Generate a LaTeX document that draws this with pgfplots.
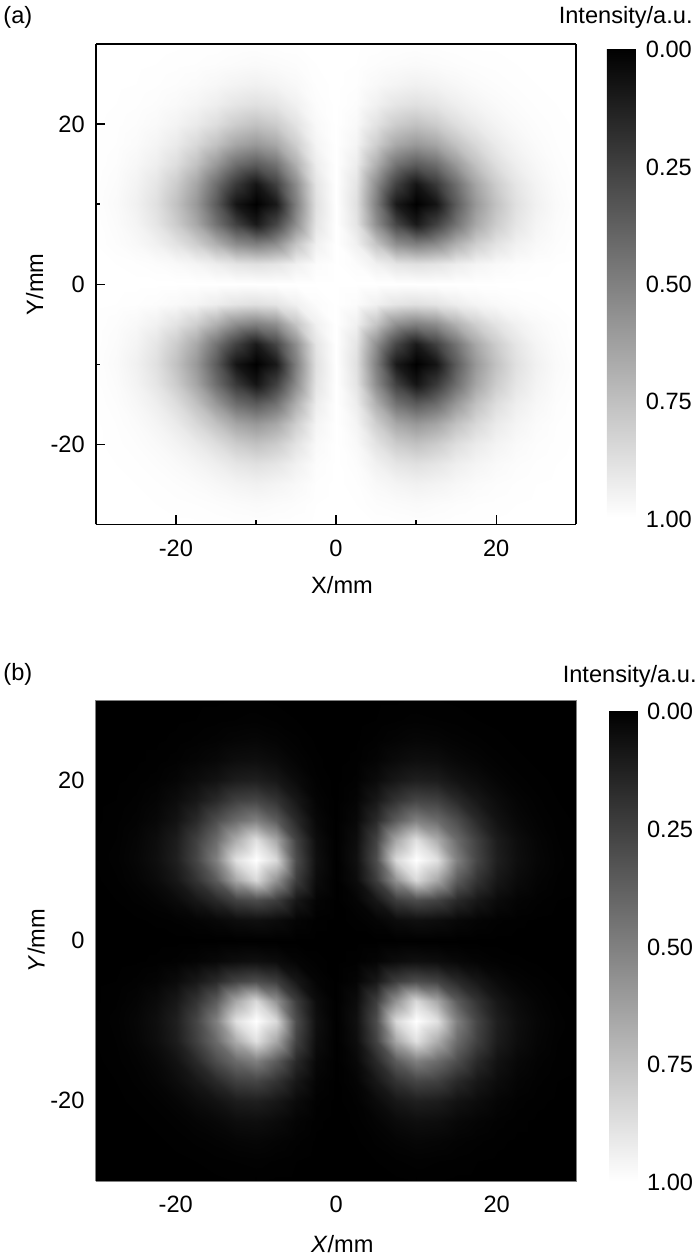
\documentclass[border=0pt]{standalone}
\usepackage{pgfplots}
\pgfplotsset{compat=1.18}
\usepackage{fontspec}
\setmainfont{Liberation Sans}

\newcommand{\lab}{\fontsize{11.8}{13}\selectfont}

\pgfplotsset{
  beamaxis/.style={
    scale only axis,
    xmin=-30, xmax=30, ymin=-30, ymax=30,
    view={0}{90},
    axis on top,
    colormap/blackwhite,
    point meta min=0, point meta max=1,
    xtick={-20,0,20}, xticklabels={-20,0,20},
    ytick={-20,0,20}, yticklabels={-20,0,20},
    minor xtick={-10,10}, minor ytick={-10,10},
    xtick pos=bottom, ytick pos=left,
    tick align=inside,
    major tick length=4.5pt, minor tick length=2pt,
    tick style={black, line width=0.7pt},
    axis line style={line width=0.8pt},
    every tick label/.append style={font=\lab},
    xticklabel style={yshift=-4pt},
    yticklabel style={xshift=-2pt},
    label style={font=\lab},
    colorbar,
  },
  barstyle/.style={
    at={(parent axis.north east)}, anchor=north west,
    scale only axis,
    y dir=reverse, ytick={0,0.25,0.5,0.75,1},
    yticklabels={0.00,0.25,0.50,0.75,1.00},
    yticklabel pos=right, ytick style={draw=none},
    axis line style={draw=none},
    yticklabel style={font=\lab, xshift=1pt, yshift=-0.75pt},
  },
}

\begin{document}
\begin{tikzpicture}
\path[use as bounding box] (0,0) rectangle (350pt,627.5pt);
\node[anchor=west,inner sep=0pt,font=\lab] at (1.5pt,619pt) {(a)};
\node[anchor=east,inner sep=0pt,font=\lab] at (346.5pt,619pt) {Intensity/a.u.};
\node[anchor=west,inner sep=0pt,font=\lab] at (1.5pt,290.5pt) {(b)};
\node[anchor=east,inner sep=0pt,font=\lab] at (348.5pt,289.5pt) {Intensity/a.u.};

\begin{axis}[beamaxis,
  at={(47.9pt,365.25pt)}, anchor=south west,
  width=240.25pt, height=240.25pt,
  xlabel={X/mm}, ylabel={Y/mm},
  xlabel style={at={(axis description cs:0.5125,-0.126)}, anchor=center},
  ylabel style={at={(axis description cs:-0.127,0.5)}, anchor=center},
  colorbar style={barstyle, xshift=6.75pt, yshift=-2.05pt, width=15pt, height=234.7pt},
]
% grey value read at each grid point, rows from y=-30 to y=30
\addplot3[surf, shader=interp, mesh/cols=25] coordinates {
(-30,-30,1)(-27.5,-30,1)(-25,-30,1)(-22.5,-30,1)(-20,-30,.999)(-17.5,-30,.999)(-15,-30,.998)(-12.5,-30,.996)(-10,-30,.995)(-7.5,-30,.997)(-5,-30,.998)(-2.5,-30,1)(0,-30,1)(2.5,-30,1)(5,-30,.998)(7.5,-30,.997)(10,-30,.995)(12.5,-30,.996)(15,-30,.998)(17.5,-30,.999)(20,-30,.999)(22.5,-30,1)(25,-30,1)(27.5,-30,1)(30,-30,1)
(-30,-27.5,1)(-27.5,-27.5,1)(-25,-27.5,.999)(-22.5,-27.5,.998)(-20,-27.5,.996)(-17.5,-27.5,.994)(-15,-27.5,.99)(-12.5,-27.5,.985)(-10,-27.5,.98)(-7.5,-27.5,.985)(-5,-27.5,.99)(-2.5,-27.5,.998)(0,-27.5,1)(2.5,-27.5,.998)(5,-27.5,.99)(7.5,-27.5,.985)(10,-27.5,.98)(12.5,-27.5,.985)(15,-27.5,.99)(17.5,-27.5,.994)(20,-27.5,.996)(22.5,-27.5,.998)(25,-27.5,.999)(27.5,-27.5,1)(30,-27.5,1)
(-30,-25,1)(-27.5,-25,.999)(-25,-25,.998)(-22.5,-25,.995)(-20,-25,.99)(-17.5,-25,.983)(-15,-25,.97)(-12.5,-25,.955)(-10,-25,.945)(-7.5,-25,.958)(-5,-25,.975)(-2.5,-25,.995)(0,-25,1)(2.5,-25,.995)(5,-25,.975)(7.5,-25,.958)(10,-25,.945)(12.5,-25,.955)(15,-25,.97)(17.5,-25,.983)(20,-25,.99)(22.5,-25,.995)(25,-25,.998)(27.5,-25,.999)(30,-25,1)
(-30,-22.5,1)(-27.5,-22.5,.998)(-25,-22.5,.995)(-22.5,-22.5,.989)(-20,-22.5,.978)(-17.5,-22.5,.96)(-15,-22.5,.935)(-12.5,-22.5,.9)(-10,-22.5,.88)(-7.5,-22.5,.9)(-5,-22.5,.945)(-2.5,-22.5,.989)(0,-22.5,1)(2.5,-22.5,.989)(5,-22.5,.945)(7.5,-22.5,.9)(10,-22.5,.88)(12.5,-22.5,.9)(15,-22.5,.935)(17.5,-22.5,.96)(20,-22.5,.978)(22.5,-22.5,.989)(25,-22.5,.995)(27.5,-22.5,.998)(30,-22.5,1)
(-30,-20,.999)(-27.5,-20,.996)(-25,-20,.99)(-22.5,-20,.978)(-20,-20,.955)(-17.5,-20,.92)(-15,-20,.87)(-12.5,-20,.8)(-10,-20,.76)(-7.5,-20,.8)(-5,-20,.89)(-2.5,-20,.977)(0,-20,1)(2.5,-20,.977)(5,-20,.89)(7.5,-20,.8)(10,-20,.76)(12.5,-20,.8)(15,-20,.87)(17.5,-20,.92)(20,-20,.955)(22.5,-20,.978)(25,-20,.99)(27.5,-20,.996)(30,-20,.999)
(-30,-17.5,.999)(-27.5,-17.5,.994)(-25,-17.5,.983)(-22.5,-17.5,.96)(-20,-17.5,.92)(-17.5,-17.5,.85)(-15,-17.5,.76)(-12.5,-17.5,.65)(-10,-17.5,.6)(-7.5,-17.5,.66)(-5,-17.5,.81)(-2.5,-17.5,.959)(0,-17.5,1)(2.5,-17.5,.959)(5,-17.5,.81)(7.5,-17.5,.66)(10,-17.5,.6)(12.5,-17.5,.65)(15,-17.5,.76)(17.5,-17.5,.85)(20,-17.5,.92)(22.5,-17.5,.96)(25,-17.5,.983)(27.5,-17.5,.994)(30,-17.5,.999)
(-30,-15,.998)(-27.5,-15,.99)(-25,-15,.97)(-22.5,-15,.935)(-20,-15,.87)(-17.5,-15,.76)(-15,-15,.6)(-12.5,-15,.43)(-10,-15,.36)(-7.5,-15,.45)(-5,-15,.69)(-2.5,-15,.93)(0,-15,1)(2.5,-15,.93)(5,-15,.69)(7.5,-15,.45)(10,-15,.36)(12.5,-15,.43)(15,-15,.6)(17.5,-15,.76)(20,-15,.87)(22.5,-15,.935)(25,-15,.97)(27.5,-15,.99)(30,-15,.998)
(-30,-12.5,.996)(-27.5,-12.5,.985)(-25,-12.5,.955)(-22.5,-12.5,.9)(-20,-12.5,.8)(-17.5,-12.5,.65)(-15,-12.5,.43)(-12.5,-12.5,.22)(-10,-12.5,.08)(-7.5,-12.5,.25)(-5,-12.5,.55)(-2.5,-12.5,.896)(0,-12.5,1)(2.5,-12.5,.896)(5,-12.5,.55)(7.5,-12.5,.25)(10,-12.5,.08)(12.5,-12.5,.22)(15,-12.5,.43)(17.5,-12.5,.65)(20,-12.5,.8)(22.5,-12.5,.9)(25,-12.5,.955)(27.5,-12.5,.985)(30,-12.5,.996)
(-30,-10,.995)(-27.5,-10,.98)(-25,-10,.945)(-22.5,-10,.88)(-20,-10,.76)(-17.5,-10,.6)(-15,-10,.36)(-12.5,-10,.08)(-10,-10,0)(-7.5,-10,.1)(-5,-10,.5)(-2.5,-10,.88)(0,-10,1)(2.5,-10,.88)(5,-10,.5)(7.5,-10,.1)(10,-10,0)(12.5,-10,.08)(15,-10,.36)(17.5,-10,.6)(20,-10,.76)(22.5,-10,.88)(25,-10,.945)(27.5,-10,.98)(30,-10,.995)
(-30,-7.5,.997)(-27.5,-7.5,.985)(-25,-7.5,.958)(-22.5,-7.5,.9)(-20,-7.5,.8)(-17.5,-7.5,.66)(-15,-7.5,.45)(-12.5,-7.5,.25)(-10,-7.5,.1)(-7.5,-7.5,.27)(-5,-7.5,.56)(-2.5,-7.5,.898)(0,-7.5,1)(2.5,-7.5,.898)(5,-7.5,.56)(7.5,-7.5,.27)(10,-7.5,.1)(12.5,-7.5,.25)(15,-7.5,.45)(17.5,-7.5,.66)(20,-7.5,.8)(22.5,-7.5,.9)(25,-7.5,.958)(27.5,-7.5,.985)(30,-7.5,.997)
(-30,-5,.998)(-27.5,-5,.99)(-25,-5,.975)(-22.5,-5,.945)(-20,-5,.89)(-17.5,-5,.81)(-15,-5,.69)(-12.5,-5,.55)(-10,-5,.5)(-7.5,-5,.56)(-5,-5,.77)(-2.5,-5,.944)(0,-5,1)(2.5,-5,.944)(5,-5,.77)(7.5,-5,.56)(10,-5,.5)(12.5,-5,.55)(15,-5,.69)(17.5,-5,.81)(20,-5,.89)(22.5,-5,.945)(25,-5,.975)(27.5,-5,.99)(30,-5,.998)
(-30,-2.5,1)(-27.5,-2.5,.998)(-25,-2.5,.995)(-22.5,-2.5,.989)(-20,-2.5,.977)(-17.5,-2.5,.959)(-15,-2.5,.93)(-12.5,-2.5,.896)(-10,-2.5,.88)(-7.5,-2.5,.898)(-5,-2.5,.944)(-2.5,-2.5,.986)(0,-2.5,1)(2.5,-2.5,.986)(5,-2.5,.944)(7.5,-2.5,.898)(10,-2.5,.88)(12.5,-2.5,.896)(15,-2.5,.93)(17.5,-2.5,.959)(20,-2.5,.977)(22.5,-2.5,.989)(25,-2.5,.995)(27.5,-2.5,.998)(30,-2.5,1)
(-30,0,1)(-27.5,0,1)(-25,0,1)(-22.5,0,1)(-20,0,1)(-17.5,0,1)(-15,0,1)(-12.5,0,1)(-10,0,1)(-7.5,0,1)(-5,0,1)(-2.5,0,1)(0,0,1)(2.5,0,1)(5,0,1)(7.5,0,1)(10,0,1)(12.5,0,1)(15,0,1)(17.5,0,1)(20,0,1)(22.5,0,1)(25,0,1)(27.5,0,1)(30,0,1)
(-30,2.5,1)(-27.5,2.5,.998)(-25,2.5,.995)(-22.5,2.5,.989)(-20,2.5,.977)(-17.5,2.5,.959)(-15,2.5,.93)(-12.5,2.5,.896)(-10,2.5,.88)(-7.5,2.5,.898)(-5,2.5,.944)(-2.5,2.5,.986)(0,2.5,1)(2.5,2.5,.986)(5,2.5,.944)(7.5,2.5,.898)(10,2.5,.88)(12.5,2.5,.896)(15,2.5,.93)(17.5,2.5,.959)(20,2.5,.977)(22.5,2.5,.989)(25,2.5,.995)(27.5,2.5,.998)(30,2.5,1)
(-30,5,.998)(-27.5,5,.99)(-25,5,.975)(-22.5,5,.945)(-20,5,.89)(-17.5,5,.81)(-15,5,.69)(-12.5,5,.55)(-10,5,.5)(-7.5,5,.56)(-5,5,.77)(-2.5,5,.944)(0,5,1)(2.5,5,.944)(5,5,.77)(7.5,5,.56)(10,5,.5)(12.5,5,.55)(15,5,.69)(17.5,5,.81)(20,5,.89)(22.5,5,.945)(25,5,.975)(27.5,5,.99)(30,5,.998)
(-30,7.5,.997)(-27.5,7.5,.985)(-25,7.5,.958)(-22.5,7.5,.9)(-20,7.5,.8)(-17.5,7.5,.66)(-15,7.5,.45)(-12.5,7.5,.25)(-10,7.5,.1)(-7.5,7.5,.27)(-5,7.5,.56)(-2.5,7.5,.898)(0,7.5,1)(2.5,7.5,.898)(5,7.5,.56)(7.5,7.5,.27)(10,7.5,.1)(12.5,7.5,.25)(15,7.5,.45)(17.5,7.5,.66)(20,7.5,.8)(22.5,7.5,.9)(25,7.5,.958)(27.5,7.5,.985)(30,7.5,.997)
(-30,10,.995)(-27.5,10,.98)(-25,10,.945)(-22.5,10,.88)(-20,10,.76)(-17.5,10,.6)(-15,10,.36)(-12.5,10,.08)(-10,10,0)(-7.5,10,.1)(-5,10,.5)(-2.5,10,.88)(0,10,1)(2.5,10,.88)(5,10,.5)(7.5,10,.1)(10,10,0)(12.5,10,.08)(15,10,.36)(17.5,10,.6)(20,10,.76)(22.5,10,.88)(25,10,.945)(27.5,10,.98)(30,10,.995)
(-30,12.5,.996)(-27.5,12.5,.985)(-25,12.5,.955)(-22.5,12.5,.9)(-20,12.5,.8)(-17.5,12.5,.65)(-15,12.5,.43)(-12.5,12.5,.22)(-10,12.5,.08)(-7.5,12.5,.25)(-5,12.5,.55)(-2.5,12.5,.896)(0,12.5,1)(2.5,12.5,.896)(5,12.5,.55)(7.5,12.5,.25)(10,12.5,.08)(12.5,12.5,.22)(15,12.5,.43)(17.5,12.5,.65)(20,12.5,.8)(22.5,12.5,.9)(25,12.5,.955)(27.5,12.5,.985)(30,12.5,.996)
(-30,15,.998)(-27.5,15,.99)(-25,15,.97)(-22.5,15,.935)(-20,15,.87)(-17.5,15,.76)(-15,15,.6)(-12.5,15,.43)(-10,15,.36)(-7.5,15,.45)(-5,15,.69)(-2.5,15,.93)(0,15,1)(2.5,15,.93)(5,15,.69)(7.5,15,.45)(10,15,.36)(12.5,15,.43)(15,15,.6)(17.5,15,.76)(20,15,.87)(22.5,15,.935)(25,15,.97)(27.5,15,.99)(30,15,.998)
(-30,17.5,.999)(-27.5,17.5,.994)(-25,17.5,.983)(-22.5,17.5,.96)(-20,17.5,.92)(-17.5,17.5,.85)(-15,17.5,.76)(-12.5,17.5,.65)(-10,17.5,.6)(-7.5,17.5,.66)(-5,17.5,.81)(-2.5,17.5,.959)(0,17.5,1)(2.5,17.5,.959)(5,17.5,.81)(7.5,17.5,.66)(10,17.5,.6)(12.5,17.5,.65)(15,17.5,.76)(17.5,17.5,.85)(20,17.5,.92)(22.5,17.5,.96)(25,17.5,.983)(27.5,17.5,.994)(30,17.5,.999)
(-30,20,.999)(-27.5,20,.996)(-25,20,.99)(-22.5,20,.978)(-20,20,.955)(-17.5,20,.92)(-15,20,.87)(-12.5,20,.8)(-10,20,.76)(-7.5,20,.8)(-5,20,.89)(-2.5,20,.977)(0,20,1)(2.5,20,.977)(5,20,.89)(7.5,20,.8)(10,20,.76)(12.5,20,.8)(15,20,.87)(17.5,20,.92)(20,20,.955)(22.5,20,.978)(25,20,.99)(27.5,20,.996)(30,20,.999)
(-30,22.5,1)(-27.5,22.5,.998)(-25,22.5,.995)(-22.5,22.5,.989)(-20,22.5,.978)(-17.5,22.5,.96)(-15,22.5,.935)(-12.5,22.5,.9)(-10,22.5,.88)(-7.5,22.5,.9)(-5,22.5,.945)(-2.5,22.5,.989)(0,22.5,1)(2.5,22.5,.989)(5,22.5,.945)(7.5,22.5,.9)(10,22.5,.88)(12.5,22.5,.9)(15,22.5,.935)(17.5,22.5,.96)(20,22.5,.978)(22.5,22.5,.989)(25,22.5,.995)(27.5,22.5,.998)(30,22.5,1)
(-30,25,1)(-27.5,25,.999)(-25,25,.998)(-22.5,25,.995)(-20,25,.99)(-17.5,25,.983)(-15,25,.97)(-12.5,25,.955)(-10,25,.945)(-7.5,25,.958)(-5,25,.975)(-2.5,25,.995)(0,25,1)(2.5,25,.995)(5,25,.975)(7.5,25,.958)(10,25,.945)(12.5,25,.955)(15,25,.97)(17.5,25,.983)(20,25,.99)(22.5,25,.995)(25,25,.998)(27.5,25,.999)(30,25,1)
(-30,27.5,1)(-27.5,27.5,1)(-25,27.5,.999)(-22.5,27.5,.998)(-20,27.5,.996)(-17.5,27.5,.994)(-15,27.5,.99)(-12.5,27.5,.985)(-10,27.5,.98)(-7.5,27.5,.985)(-5,27.5,.99)(-2.5,27.5,.998)(0,27.5,1)(2.5,27.5,.998)(5,27.5,.99)(7.5,27.5,.985)(10,27.5,.98)(12.5,27.5,.985)(15,27.5,.99)(17.5,27.5,.994)(20,27.5,.996)(22.5,27.5,.998)(25,27.5,.999)(27.5,27.5,1)(30,27.5,1)
(-30,30,1)(-27.5,30,1)(-25,30,1)(-22.5,30,1)(-20,30,.999)(-17.5,30,.999)(-15,30,.998)(-12.5,30,.996)(-10,30,.995)(-7.5,30,.997)(-5,30,.998)(-2.5,30,1)(0,30,1)(2.5,30,1)(5,30,.998)(7.5,30,.997)(10,30,.995)(12.5,30,.996)(15,30,.998)(17.5,30,.999)(20,30,.999)(22.5,30,1)(25,30,1)(27.5,30,1)(30,30,1)
};
\end{axis}

\begin{axis}[beamaxis,
  at={(47.75pt,37pt)}, anchor=south west,
  width=240.75pt, height=240.5pt,
  axis line style={gray, line width=0.5pt},
  xlabel={\textit{X}/mm}, ylabel={\textit{Y}/mm},
  xlabel style={at={(axis description cs:0.5125,-0.131)}, anchor=center},
  ylabel style={at={(axis description cs:-0.123,0.5)}, anchor=center},
  colorbar style={barstyle, xshift=7.5pt, yshift=-5pt, width=14.5pt, height=235.5pt},
]
\addplot3[surf, shader=interp, mesh/cols=25] coordinates {
(-30,-30,0)(-27.5,-30,0)(-25,-30,0)(-22.5,-30,0)(-20,-30,0)(-17.5,-30,.001)(-15,-30,.001)(-12.5,-30,.002)(-10,-30,.002)(-7.5,-30,.001)(-5,-30,.001)(-2.5,-30,0)(0,-30,0)(2.5,-30,0)(5,-30,.001)(7.5,-30,.001)(10,-30,.002)(12.5,-30,.002)(15,-30,.001)(17.5,-30,.001)(20,-30,0)(22.5,-30,0)(25,-30,0)(27.5,-30,0)(30,-30,0)
(-30,-27.5,0)(-27.5,-27.5,0)(-25,-27.5,0)(-22.5,-27.5,0)(-20,-27.5,.001)(-17.5,-27.5,.002)(-15,-27.5,.004)(-12.5,-27.5,.006)(-10,-27.5,.008)(-7.5,-27.5,.005)(-5,-27.5,.002)(-2.5,-27.5,0)(0,-27.5,0)(2.5,-27.5,0)(5,-27.5,.002)(7.5,-27.5,.005)(10,-27.5,.008)(12.5,-27.5,.006)(15,-27.5,.004)(17.5,-27.5,.002)(20,-27.5,.001)(22.5,-27.5,0)(25,-27.5,0)(27.5,-27.5,0)(30,-27.5,0)
(-30,-25,0)(-27.5,-25,0)(-25,-25,.001)(-22.5,-25,.001)(-20,-25,.003)(-17.5,-25,.007)(-15,-25,.012)(-12.5,-25,.02)(-10,-25,.024)(-7.5,-25,.016)(-5,-25,.007)(-2.5,-25,.001)(0,-25,0)(2.5,-25,.001)(5,-25,.007)(7.5,-25,.016)(10,-25,.024)(12.5,-25,.02)(15,-25,.012)(17.5,-25,.007)(20,-25,.003)(22.5,-25,.001)(25,-25,.001)(27.5,-25,0)(30,-25,0)
(-30,-22.5,0)(-27.5,-22.5,0)(-25,-22.5,.001)(-22.5,-22.5,.003)(-20,-22.5,.008)(-17.5,-22.5,.018)(-15,-22.5,.03)(-12.5,-22.5,.05)(-10,-22.5,.055)(-7.5,-22.5,.04)(-5,-22.5,.016)(-2.5,-22.5,.003)(0,-22.5,0)(2.5,-22.5,.003)(5,-22.5,.016)(7.5,-22.5,.04)(10,-22.5,.055)(12.5,-22.5,.05)(15,-22.5,.03)(17.5,-22.5,.018)(20,-22.5,.008)(22.5,-22.5,.003)(25,-22.5,.001)(27.5,-22.5,0)(30,-22.5,0)
(-30,-20,0)(-27.5,-20,.001)(-25,-20,.003)(-22.5,-20,.008)(-20,-20,.02)(-17.5,-20,.045)(-15,-20,.07)(-12.5,-20,.11)(-10,-20,.12)(-7.5,-20,.09)(-5,-20,.04)(-2.5,-20,.007)(0,-20,0)(2.5,-20,.007)(5,-20,.04)(7.5,-20,.09)(10,-20,.12)(12.5,-20,.11)(15,-20,.07)(17.5,-20,.045)(20,-20,.02)(22.5,-20,.008)(25,-20,.003)(27.5,-20,.001)(30,-20,0)
(-30,-17.5,.001)(-27.5,-17.5,.002)(-25,-17.5,.007)(-22.5,-17.5,.018)(-20,-17.5,.045)(-17.5,-17.5,.09)(-15,-17.5,.16)(-12.5,-17.5,.25)(-10,-17.5,.27)(-7.5,-17.5,.2)(-5,-17.5,.09)(-2.5,-17.5,.016)(0,-17.5,0)(2.5,-17.5,.016)(5,-17.5,.09)(7.5,-17.5,.2)(10,-17.5,.27)(12.5,-17.5,.25)(15,-17.5,.16)(17.5,-17.5,.09)(20,-17.5,.045)(22.5,-17.5,.018)(25,-17.5,.007)(27.5,-17.5,.002)(30,-17.5,.001)
(-30,-15,.001)(-27.5,-15,.004)(-25,-15,.012)(-22.5,-15,.03)(-20,-15,.07)(-17.5,-15,.16)(-15,-15,.3)(-12.5,-15,.42)(-10,-15,.5)(-7.5,-15,.36)(-5,-15,.16)(-2.5,-15,.03)(0,-15,0)(2.5,-15,.03)(5,-15,.16)(7.5,-15,.36)(10,-15,.5)(12.5,-15,.42)(15,-15,.3)(17.5,-15,.16)(20,-15,.07)(22.5,-15,.03)(25,-15,.012)(27.5,-15,.004)(30,-15,.001)
(-30,-12.5,.002)(-27.5,-12.5,.006)(-25,-12.5,.02)(-22.5,-12.5,.05)(-20,-12.5,.11)(-17.5,-12.5,.25)(-15,-12.5,.42)(-12.5,-12.5,.68)(-10,-12.5,.88)(-7.5,-12.5,.66)(-5,-12.5,.26)(-2.5,-12.5,.05)(0,-12.5,0)(2.5,-12.5,.05)(5,-12.5,.26)(7.5,-12.5,.66)(10,-12.5,.88)(12.5,-12.5,.68)(15,-12.5,.42)(17.5,-12.5,.25)(20,-12.5,.11)(22.5,-12.5,.05)(25,-12.5,.02)(27.5,-12.5,.006)(30,-12.5,.002)
(-30,-10,.002)(-27.5,-10,.008)(-25,-10,.024)(-22.5,-10,.055)(-20,-10,.12)(-17.5,-10,.27)(-15,-10,.5)(-12.5,-10,.88)(-10,-10,1)(-7.5,-10,.85)(-5,-10,.3)(-2.5,-10,.06)(0,-10,0)(2.5,-10,.06)(5,-10,.3)(7.5,-10,.85)(10,-10,1)(12.5,-10,.88)(15,-10,.5)(17.5,-10,.27)(20,-10,.12)(22.5,-10,.055)(25,-10,.024)(27.5,-10,.008)(30,-10,.002)
(-30,-7.5,.001)(-27.5,-7.5,.005)(-25,-7.5,.016)(-22.5,-7.5,.04)(-20,-7.5,.09)(-17.5,-7.5,.2)(-15,-7.5,.36)(-12.5,-7.5,.66)(-10,-7.5,.85)(-7.5,-7.5,.58)(-5,-7.5,.24)(-2.5,-7.5,.045)(0,-7.5,0)(2.5,-7.5,.045)(5,-7.5,.24)(7.5,-7.5,.58)(10,-7.5,.85)(12.5,-7.5,.66)(15,-7.5,.36)(17.5,-7.5,.2)(20,-7.5,.09)(22.5,-7.5,.04)(25,-7.5,.016)(27.5,-7.5,.005)(30,-7.5,.001)
(-30,-5,.001)(-27.5,-5,.002)(-25,-5,.007)(-22.5,-5,.016)(-20,-5,.04)(-17.5,-5,.09)(-15,-5,.16)(-12.5,-5,.26)(-10,-5,.3)(-7.5,-5,.24)(-5,-5,.09)(-2.5,-5,.017)(0,-5,0)(2.5,-5,.017)(5,-5,.09)(7.5,-5,.24)(10,-5,.3)(12.5,-5,.26)(15,-5,.16)(17.5,-5,.09)(20,-5,.04)(22.5,-5,.016)(25,-5,.007)(27.5,-5,.002)(30,-5,.001)
(-30,-2.5,0)(-27.5,-2.5,0)(-25,-2.5,.001)(-22.5,-2.5,.003)(-20,-2.5,.007)(-17.5,-2.5,.016)(-15,-2.5,.03)(-12.5,-2.5,.05)(-10,-2.5,.06)(-7.5,-2.5,.045)(-5,-2.5,.017)(-2.5,-2.5,.004)(0,-2.5,0)(2.5,-2.5,.004)(5,-2.5,.017)(7.5,-2.5,.045)(10,-2.5,.06)(12.5,-2.5,.05)(15,-2.5,.03)(17.5,-2.5,.016)(20,-2.5,.007)(22.5,-2.5,.003)(25,-2.5,.001)(27.5,-2.5,0)(30,-2.5,0)
(-30,0,0)(-27.5,0,0)(-25,0,0)(-22.5,0,0)(-20,0,0)(-17.5,0,0)(-15,0,0)(-12.5,0,0)(-10,0,0)(-7.5,0,0)(-5,0,0)(-2.5,0,0)(0,0,0)(2.5,0,0)(5,0,0)(7.5,0,0)(10,0,0)(12.5,0,0)(15,0,0)(17.5,0,0)(20,0,0)(22.5,0,0)(25,0,0)(27.5,0,0)(30,0,0)
(-30,2.5,0)(-27.5,2.5,0)(-25,2.5,.001)(-22.5,2.5,.003)(-20,2.5,.007)(-17.5,2.5,.016)(-15,2.5,.03)(-12.5,2.5,.05)(-10,2.5,.06)(-7.5,2.5,.045)(-5,2.5,.017)(-2.5,2.5,.004)(0,2.5,0)(2.5,2.5,.004)(5,2.5,.017)(7.5,2.5,.045)(10,2.5,.06)(12.5,2.5,.05)(15,2.5,.03)(17.5,2.5,.016)(20,2.5,.007)(22.5,2.5,.003)(25,2.5,.001)(27.5,2.5,0)(30,2.5,0)
(-30,5,.001)(-27.5,5,.002)(-25,5,.007)(-22.5,5,.016)(-20,5,.04)(-17.5,5,.09)(-15,5,.16)(-12.5,5,.26)(-10,5,.3)(-7.5,5,.24)(-5,5,.09)(-2.5,5,.017)(0,5,0)(2.5,5,.017)(5,5,.09)(7.5,5,.24)(10,5,.3)(12.5,5,.26)(15,5,.16)(17.5,5,.09)(20,5,.04)(22.5,5,.016)(25,5,.007)(27.5,5,.002)(30,5,.001)
(-30,7.5,.001)(-27.5,7.5,.005)(-25,7.5,.016)(-22.5,7.5,.04)(-20,7.5,.09)(-17.5,7.5,.2)(-15,7.5,.36)(-12.5,7.5,.66)(-10,7.5,.85)(-7.5,7.5,.58)(-5,7.5,.24)(-2.5,7.5,.045)(0,7.5,0)(2.5,7.5,.045)(5,7.5,.24)(7.5,7.5,.58)(10,7.5,.85)(12.5,7.5,.66)(15,7.5,.36)(17.5,7.5,.2)(20,7.5,.09)(22.5,7.5,.04)(25,7.5,.016)(27.5,7.5,.005)(30,7.5,.001)
(-30,10,.002)(-27.5,10,.008)(-25,10,.024)(-22.5,10,.055)(-20,10,.12)(-17.5,10,.27)(-15,10,.5)(-12.5,10,.88)(-10,10,1)(-7.5,10,.85)(-5,10,.3)(-2.5,10,.06)(0,10,0)(2.5,10,.06)(5,10,.3)(7.5,10,.85)(10,10,1)(12.5,10,.88)(15,10,.5)(17.5,10,.27)(20,10,.12)(22.5,10,.055)(25,10,.024)(27.5,10,.008)(30,10,.002)
(-30,12.5,.002)(-27.5,12.5,.006)(-25,12.5,.02)(-22.5,12.5,.05)(-20,12.5,.11)(-17.5,12.5,.25)(-15,12.5,.42)(-12.5,12.5,.68)(-10,12.5,.88)(-7.5,12.5,.66)(-5,12.5,.26)(-2.5,12.5,.05)(0,12.5,0)(2.5,12.5,.05)(5,12.5,.26)(7.5,12.5,.66)(10,12.5,.88)(12.5,12.5,.68)(15,12.5,.42)(17.5,12.5,.25)(20,12.5,.11)(22.5,12.5,.05)(25,12.5,.02)(27.5,12.5,.006)(30,12.5,.002)
(-30,15,.001)(-27.5,15,.004)(-25,15,.012)(-22.5,15,.03)(-20,15,.07)(-17.5,15,.16)(-15,15,.3)(-12.5,15,.42)(-10,15,.5)(-7.5,15,.36)(-5,15,.16)(-2.5,15,.03)(0,15,0)(2.5,15,.03)(5,15,.16)(7.5,15,.36)(10,15,.5)(12.5,15,.42)(15,15,.3)(17.5,15,.16)(20,15,.07)(22.5,15,.03)(25,15,.012)(27.5,15,.004)(30,15,.001)
(-30,17.5,.001)(-27.5,17.5,.002)(-25,17.5,.007)(-22.5,17.5,.018)(-20,17.5,.045)(-17.5,17.5,.09)(-15,17.5,.16)(-12.5,17.5,.25)(-10,17.5,.27)(-7.5,17.5,.2)(-5,17.5,.09)(-2.5,17.5,.016)(0,17.5,0)(2.5,17.5,.016)(5,17.5,.09)(7.5,17.5,.2)(10,17.5,.27)(12.5,17.5,.25)(15,17.5,.16)(17.5,17.5,.09)(20,17.5,.045)(22.5,17.5,.018)(25,17.5,.007)(27.5,17.5,.002)(30,17.5,.001)
(-30,20,0)(-27.5,20,.001)(-25,20,.003)(-22.5,20,.008)(-20,20,.02)(-17.5,20,.045)(-15,20,.07)(-12.5,20,.11)(-10,20,.12)(-7.5,20,.09)(-5,20,.04)(-2.5,20,.007)(0,20,0)(2.5,20,.007)(5,20,.04)(7.5,20,.09)(10,20,.12)(12.5,20,.11)(15,20,.07)(17.5,20,.045)(20,20,.02)(22.5,20,.008)(25,20,.003)(27.5,20,.001)(30,20,0)
(-30,22.5,0)(-27.5,22.5,0)(-25,22.5,.001)(-22.5,22.5,.003)(-20,22.5,.008)(-17.5,22.5,.018)(-15,22.5,.03)(-12.5,22.5,.05)(-10,22.5,.055)(-7.5,22.5,.04)(-5,22.5,.016)(-2.5,22.5,.003)(0,22.5,0)(2.5,22.5,.003)(5,22.5,.016)(7.5,22.5,.04)(10,22.5,.055)(12.5,22.5,.05)(15,22.5,.03)(17.5,22.5,.018)(20,22.5,.008)(22.5,22.5,.003)(25,22.5,.001)(27.5,22.5,0)(30,22.5,0)
(-30,25,0)(-27.5,25,0)(-25,25,.001)(-22.5,25,.001)(-20,25,.003)(-17.5,25,.007)(-15,25,.012)(-12.5,25,.02)(-10,25,.024)(-7.5,25,.016)(-5,25,.007)(-2.5,25,.001)(0,25,0)(2.5,25,.001)(5,25,.007)(7.5,25,.016)(10,25,.024)(12.5,25,.02)(15,25,.012)(17.5,25,.007)(20,25,.003)(22.5,25,.001)(25,25,.001)(27.5,25,0)(30,25,0)
(-30,27.5,0)(-27.5,27.5,0)(-25,27.5,0)(-22.5,27.5,0)(-20,27.5,.001)(-17.5,27.5,.002)(-15,27.5,.004)(-12.5,27.5,.006)(-10,27.5,.008)(-7.5,27.5,.005)(-5,27.5,.002)(-2.5,27.5,0)(0,27.5,0)(2.5,27.5,0)(5,27.5,.002)(7.5,27.5,.005)(10,27.5,.008)(12.5,27.5,.006)(15,27.5,.004)(17.5,27.5,.002)(20,27.5,.001)(22.5,27.5,0)(25,27.5,0)(27.5,27.5,0)(30,27.5,0)
(-30,30,0)(-27.5,30,0)(-25,30,0)(-22.5,30,0)(-20,30,0)(-17.5,30,.001)(-15,30,.001)(-12.5,30,.002)(-10,30,.002)(-7.5,30,.001)(-5,30,.001)(-2.5,30,0)(0,30,0)(2.5,30,0)(5,30,.001)(7.5,30,.001)(10,30,.002)(12.5,30,.002)(15,30,.001)(17.5,30,.001)(20,30,0)(22.5,30,0)(25,30,0)(27.5,30,0)(30,30,0)
};
\end{axis}
\end{tikzpicture}
\end{document}
